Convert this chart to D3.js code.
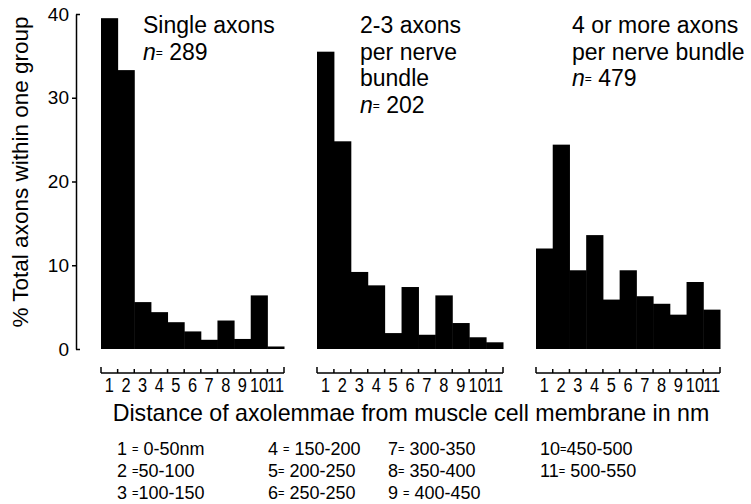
<!DOCTYPE html>
<html>
<head>
<meta charset="utf-8">
<script src="https://cdn.jsdelivr.net/npm/d3@7"></script>
<style>
  html, body { margin: 0; padding: 0; background: #fff; }
  svg { display: block; font-family: "Liberation Sans", Arial, Helvetica, sans-serif; }
</style>
</head>
<body>
<svg id="chart" width="751" height="504"></svg>
<script>
// ---- data ----
const categories = ["1","2","3","4","5","6","7","8","9","10","11"];
const singleAxons   = [39.5, 33.3, 5.6, 4.4, 3.2, 2.1, 1.1, 3.4, 1.2, 6.4, 0.3];
const twoThreeAxons = [35.5, 24.8, 9.2, 7.6, 1.9, 7.4, 1.7, 6.4, 3.1, 1.4, 0.8];
const fourPlusAxons = [12.0, 24.4, 9.4, 13.6, 5.9, 9.4, 6.3, 5.4, 4.1, 8.0, 4.7];
const yTicks = [0, 10, 20, 30, 40];
const panelTitles = [
  ["Single axons"],
  ["2-3 axons", "per nerve", "bundle"],
  ["4 or more axons", "per nerve bundle"]
];
const panelN = ["289", "202", "479"];
const legendLabels = ["1 = 0-50nm","2 =50-100","3 =100-150","4 = 150-200","5= 200-250","6= 250-250",
                      "7= 300-350","8= 350-400","9 = 400-450","10=450-500","11= 500-550"];
const xTitle = "Distance of axolemmae from muscle cell membrane in nm";
const yTitle = "% Total axons within one group";

// ---- layout ----
const svg = d3.select("#chart");
const y = d3.scaleLinear().domain([0, 40]).range([349, 14]);
const panels = [
  { values: singleAxons,   range: [101, 284], tx: 143, n: panelN[0], title: panelTitles[0] },
  { values: twoThreeAxons, range: [317, 503], tx: 360, n: panelN[1], title: panelTitles[1] },
  { values: fourPlusAxons, range: [536, 720], tx: 572, n: panelN[2], title: panelTitles[2] }
];
const axisY = 373;
const lineH = 26.7;

// y axis
const yAxis = svg.append("g")
  .attr("transform", "translate(76,0)")
  .call(d3.axisLeft(y).tickValues(yTicks).tickSize(4).tickSizeOuter(0).tickPadding(3));
yAxis.select(".domain").attr("stroke", "#000").attr("stroke-width", 1.5);
yAxis.selectAll(".tick line").attr("stroke", "#000").attr("stroke-width", 1.5)
  .attr("x2", d => (d === 0 || d === 40) ? 4 : -4);
yAxis.selectAll(".tick text").attr("font-size", 19).attr("fill", "#000")
  .attr("font-family", "'Liberation Sans', Arial, sans-serif");

// y title
svg.append("text")
  .attr("transform", "translate(28,172) rotate(-90)")
  .attr("text-anchor", "middle")
  .attr("font-size", 22.5)
  .attr("fill", "#000")
  .text(yTitle);

panels.forEach(p => {
  const x = d3.scaleBand().domain(categories).range(p.range).padding(0);
  const bw = x.bandwidth();
  const g = svg.append("g");
  g.selectAll("rect").data(p.values).join("rect")
    .attr("x", (d, i) => x(categories[i]))
    .attr("width", bw + 0.5)
    .attr("y", d => y(d))
    .attr("height", d => y(0) - y(d))
    .attr("fill", "#000");

  // bottom category axis
  const bounds = categories.map(c => x(c)).concat([p.range[1]]);
  g.append("line")
    .attr("x1", p.range[0]).attr("x2", p.range[1])
    .attr("y1", axisY).attr("y2", axisY)
    .attr("stroke", "#000").attr("stroke-width", 1.5);
  g.selectAll("line.tk").data(bounds).join("line")
    .attr("class", "tk")
    .attr("x1", d => d).attr("x2", d => d)
    .attr("y1", axisY)
    .attr("y2", (d, i) => (i === 0 || i === bounds.length - 1) ? axisY - 6 : axisY - 4)
    .attr("stroke", "#000").attr("stroke-width", 1.5);
  g.selectAll("text.tl").data(categories).join("text")
    .attr("class", "tl")
    .attr("transform", d => `translate(${x(d) + bw / 2},392) scale(0.78,1)`)
    .attr("text-anchor", "middle")
    .attr("font-size", 21)
    .attr("fill", "#000")
    .text(d => d);

  // panel title
  const t = svg.append("text")
    .attr("font-size", 23)
    .attr("fill", "#000");
  p.title.forEach((line, i) => {
    t.append("tspan").attr("x", p.tx).attr("y", 33 + i * lineH).text(line);
  });
  const nt = svg.append("text")
    .attr("x", p.tx).attr("y", 33 + p.title.length * lineH)
    .attr("font-size", 23).attr("fill", "#000");
  nt.append("tspan").attr("font-style", "italic").text("n");
  nt.append("tspan").attr("font-size", 12).attr("dy", -3).text("=");
  nt.append("tspan").attr("dy", 3).text(" " + p.n);
});

// x title
svg.append("text")
  .attr("x", 411).attr("y", 421)
  .attr("text-anchor", "middle")
  .attr("font-size", 23.2)
  .attr("fill", "#000")
  .text(xTitle);

// legend
const colX = [117, 268, 388, 540];
const rowY = [455, 477, 499];
legendLabels.forEach((lab, i) => {
  const col = Math.floor(i / 3), row = i % 3;
  const parts = lab.split("=");
  const t = svg.append("text")
    .attr("x", colX[col]).attr("y", rowY[row])
    .attr("font-size", 18).attr("fill", "#000");
  t.append("tspan").text(parts[0]);
  t.append("tspan").attr("font-size", 11).attr("dy", -2).text("=");
  t.append("tspan").attr("dy", 2).text(parts[1]);
});
</script>
</body>
</html>
